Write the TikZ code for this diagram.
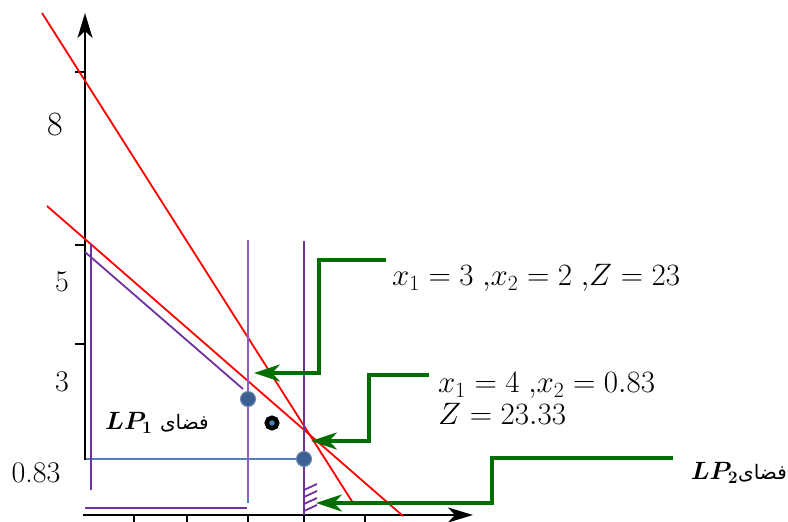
\RequirePackage{fix-cm}
\documentclass[tikz,border=0pt]{standalone}
\usepackage{amsmath,amssymb}
\usepackage{fontspec}
\usetikzlibrary{arrows.meta}
\TeXXeTstate=1
\newfontfamily\arabicfont[Script=Arabic]{DejaVu Sans}
\definecolor{lpred}{RGB}{255,0,0}
\definecolor{lppurple}{RGB}{112,48,160}
\definecolor{lplilac}{RGB}{140,92,200}
\definecolor{lpblue}{RGB}{79,129,189}
\definecolor{lpdot}{RGB}{60,96,146}
\definecolor{lpgreen}{RGB}{0,110,0}

\begin{document}
\begin{tikzpicture}[
  x=1pt, y=-1pt,
  axis/.style={line width=2.8pt, -{Stealth[length=25pt, width=15pt, inset=7pt]}},
  tick/.style={line width=1.6pt},
  ticklabel/.style={font=\fontsize{30}{32}\selectfont, inner sep=0pt},
  bound/.style={draw=lpred, line width=1.8pt},
  cut/.style={draw=lppurple, line width=1.8pt},
  level/.style={draw=lpblue, line width=1.6pt},
  soldot/.style={circle, fill=lpdot, draw=lpdot!75!white, line width=1pt, minimum size=15pt, inner sep=0pt},
  optdot/.style={circle, fill=lpblue, draw=black, line width=4.5pt, minimum size=10.5pt, inner sep=0pt},
  callout/.style={draw=lpgreen, line width=3.5pt, -{Stealth[length=26pt, width=17pt, inset=8pt]}},
  sol/.style={font=\fontsize{31}{32}\selectfont, inner sep=0pt},
  region/.style={font=\fontsize{25}{27}\selectfont, inner sep=0pt}
  ]
  \useasboundingbox (0,0) rectangle (788,522);

  % axes
  \coordinate (ybot) at (85,460);
  \coordinate (ytop) at (85,13);
  \coordinate (xleft) at (83,515);
  \coordinate (xright) at (473,515);
  \draw[axis] (ybot) -- (ytop);
  \draw[axis] (xleft) -- (xright);
  \foreach \t in {72,245,344} \draw[tick] (75,\t) -- (85,\t);
  \foreach \t in {134,187,248,304,365} \draw[tick] (\t,515) -- (\t,524);

  \node[ticklabel, font=\fontsize{34}{36}\selectfont] (l8) at (55,125) {8};
  \node[ticklabel] (l5) at (62,282) {5};
  \node[ticklabel] (l3) at (62,382) {3};
  \node[ticklabel] (l083) at (36,473) {0.83};

  % constraints
  \draw[bound] (42,13) -- (353,503);
  \draw[bound] (47,206) -- (403,516);

  % branches
  \draw[level] (248,459) -- (248,503);
  \draw[level] (86,459) -- (304,459);
  \draw[cut] (91,244) -- (91,490);
  \draw[cut] (85,252) -- (243,389);
  \draw[cut] (85,508) -- (247,508);
  \draw[cut, draw=lplilac] (248,240) -- (248,498);
  \draw[cut] (304,241) -- (304,515);
  \foreach \h in {490,497,504,511} \draw[cut] (304,\h) -- ++(13,-6);

  % points
  \node[soldot] (v32) at (248,399) {};
  \node[soldot] (v4) at (304,459) {};
  \node[optdot] (opt) at (272,423) {};

  % solutions
  \node[sol, anchor=west] (sol1) at (392,278) {$x_1 = 3\;{,}x_2 = 2\;{,}Z = 23$};
  \node[sol, anchor=west, align=left] (sol2) at (438,399) {$x_1 = 4\;{,}x_2 = 0.83$\\$Z = 23.33$};
  \node[region, anchor=west] (lp1) at (105,423) {$\boldsymbol{LP_1}$ {\arabicfont\fontsize{20}{22}\selectfont\beginR فضای\endR}};
  \node[region, anchor=east] (lp2) at (787,473) {$\boldsymbol{LP_2}${\arabicfont\fontsize{20}{22}\selectfont\beginR فضای\endR}};

  \coordinate (c1) at (386,260);
  \coordinate (t1) at (254,373);
  \coordinate (c2) at (429,375);
  \coordinate (t2) at (311,441);
  \coordinate (c3) at (673,458);
  \coordinate (t3) at (316,503);
  \draw[callout] (c1) -- ++(-67,0) |- (t1);
  \draw[callout] (c2) -- ++(-60,0) |- (t2);
  \draw[callout] (c3) -- ++(-181,0) |- (t3);
\end{tikzpicture}
\end{document}
